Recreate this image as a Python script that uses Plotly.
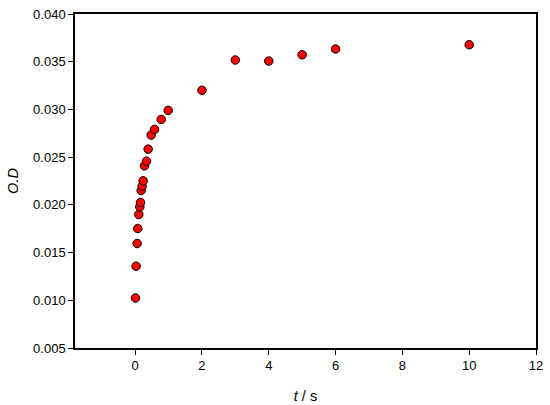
import plotly.graph_objects as go

t_values = [0.01, 0.03, 0.06, 0.08, 0.11, 0.14, 0.16, 0.18, 0.21, 0.24, 0.28, 0.34, 0.39,
            0.48, 0.58, 0.78, 0.99, 2.0, 3.0, 4.0, 5.0, 6.0, 10.0]
od_values = [0.01024, 0.01357, 0.01595, 0.01752, 0.01899, 0.01979, 0.02025, 0.02151, 0.02196,
             0.02252, 0.02409, 0.02458, 0.02584, 0.02731, 0.02791, 0.02895, 0.02990,
             0.03200, 0.03518, 0.03507, 0.03573, 0.03633, 0.03678]
x_ticks = [0, 2, 4, 6, 8, 10, 12]
y_ticks = [0.005, 0.010, 0.015, 0.020, 0.025, 0.030, 0.035, 0.040]

fig = go.Figure(go.Scatter(
    x=t_values, y=od_values, mode="markers",
    marker=dict(color="#ff0000", size=8.5, line=dict(color="black", width=1)),
    showlegend=False, cliponaxis=False,
))

font = dict(family="Liberation Sans, Arial, sans-serif", size=13, color="black")
fig.update_layout(
    width=550, height=405,
    margin=dict(l=75, r=14, t=14, b=57),
    paper_bgcolor="white", plot_bgcolor="white",
    font=font,
    xaxis=dict(range=[-1.8, 12], tickvals=x_ticks, ticktext=[str(v) for v in x_ticks],
               ticks="outside", ticklen=5, tickwidth=1, tickcolor="black",
               showline=True, linecolor="black", linewidth=1.5, mirror=True,
               showgrid=False, zeroline=False, automargin=False,
               title=dict(text="<i>t</i> / s", font=dict(size=14.5), standoff=19)),
    yaxis=dict(range=[0.005, 0.040], tickvals=y_ticks, ticktext=[f"{v:.3f}" for v in y_ticks],
               ticks="outside", ticklen=5, tickwidth=1, tickcolor="black",
               showline=True, linecolor="black", linewidth=1.5, mirror=True,
               showgrid=False, zeroline=False, automargin=False,
               title=dict(text="<i>O.D</i>", font=dict(size=14.5), standoff=11)),
)
fig.write_html("out.html", config={"displayModeBar": False},
               post_script="document.body.style.margin='0';document.body.style.overflow='hidden';")
